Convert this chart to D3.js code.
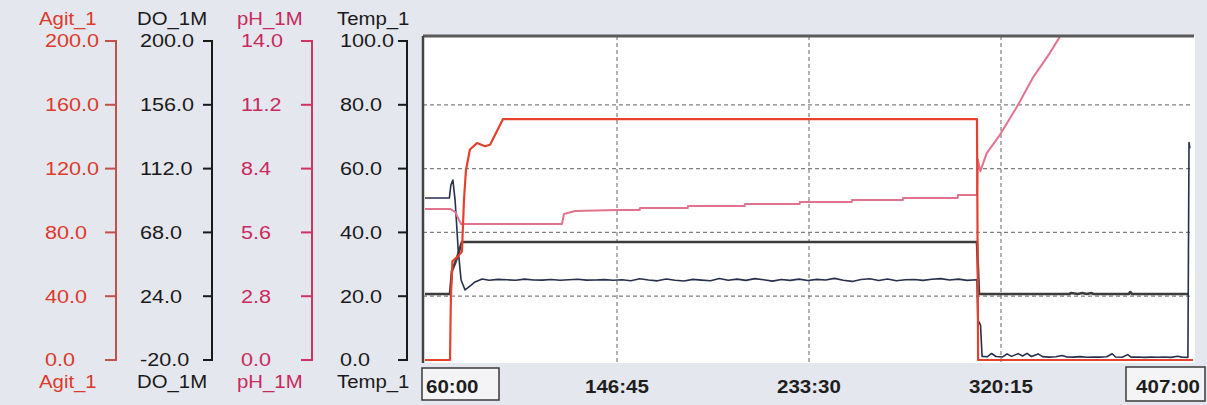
<!DOCTYPE html>
<html><head><meta charset="utf-8">
<script src="https://cdn.jsdelivr.net/npm/d3@7"></script>
<style>
html,body{margin:0;padding:0;background:#e5e7ee;}
svg{display:block;}
text{font-family:"Liberation Sans",Arial,sans-serif;}
</style></head>
<body>
<svg id="chart" width="1207" height="405"></svg>
<script>
// ---- Data ----
const timeTicks = [60, 146.75, 233.5, 320.25, 407];
const timeTickLabels = ["60:00", "146:45", "233:30", "320:15", "407:00"];
const agitTicks = [0, 40, 80, 120, 160, 200];
const doTicks = [-20, 24, 68, 112, 156, 200];
const phTicks = [0, 2.8, 5.6, 8.4, 11.2, 14];
const tempTicks = [0, 20, 40, 60, 80, 100];

const agitTime = [60, 71.3, 71.7, 72.4, 74.9, 76.7, 77.6, 78.5, 80.3, 83.5, 87.1, 89.4, 95.2, 309.4, 309.9, 407];
const agitVal  = [0, 0, 40, 62, 65, 68, 100, 119, 132, 136, 134, 135, 151, 151, 0, 0];

const phTime = [60, 71.3, 73.6, 76.3, 121.9, 122.8, 127.8, 146.7, 157, 157.1, 178.7, 178.8, 204.5, 204.6, 229.3, 229.4, 252.8, 252.9, 275.9, 276, 300.7, 300.8, 309.4, 309.8, 310.9, 313.8, 319.7, 327.4, 334.6, 342.3, 346.8];
const phVal  = [6.63, 6.63, 6.5, 5.97, 5.97, 6.41, 6.54, 6.58, 6.58, 6.67, 6.67, 6.76, 6.76, 6.85, 6.85, 6.93, 6.93, 7.02, 7.02, 7.11, 7.11, 7.24, 7.24, 8.8, 8.28, 9.08, 9.87, 11.1, 12.38, 13.47, 14.18];

const tempTime = [60, 71.3, 72.2, 73.6, 74.9, 76.7, 309.4, 310.3, 351, 352, 355, 357, 359, 361, 362, 378, 378.6, 379.5, 405];
const tempVal  = [20.7, 20.7, 28, 30.4, 33, 37, 37, 20.7, 20.7, 21.0, 20.7, 21.0, 20.7, 21.0, 20.7, 20.7, 21.3, 20.7, 20.7];

const doTime = [60, 71, 71.7, 72.6, 73.6, 75, 76.3, 78.1, 80.3, 82.6, 85.8,
  89, 93, 97, 101, 105, 109, 113, 117, 121, 125, 129, 133, 137, 141, 145, 149, 153, 157, 161, 165, 169, 173, 177, 181, 185, 189, 193, 197, 201, 205, 209, 213, 217, 221, 225, 229, 233, 237, 241, 245, 249, 253, 257, 261, 265, 269, 273, 277, 281, 285, 289, 293, 297, 301, 305, 309.4,
  309.8, 311, 311.7, 314, 316, 318, 321, 323, 325, 328, 330, 332, 334, 337, 339, 342, 345, 348, 350, 353, 356, 359, 362, 365, 368, 370.5, 372, 375, 377.5, 379, 382, 385, 388, 391, 394, 397, 400, 402, 404.7, 405.2, 405.6];
const doVal = [91.7, 91.7, 100.7, 104.1, 90.3, 55.9, 35.2, 28.3, 31, 33.8, 35.9,
  35.0, 35.6, 35.3, 35.0, 35.8, 35.2, 35.1, 35.5, 35.0, 35.3, 35.7, 35.1, 35.2, 35.4, 35.0, 35.3, 34.7, 36.0, 35.2, 34.6, 35.9, 35.0, 34.5, 35.6, 35.1, 34.7, 36.2, 35.0, 35.8, 34.9, 36.1, 35.3, 34.4, 35.5, 34.9, 35.8, 34.8, 35.6, 35.2, 36.3, 35.0, 34.2, 35.5, 36.0, 34.8, 35.9, 34.6, 35.3, 35.5, 34.9, 35.7, 36.1, 35.2, 35.8, 34.9, 35.3,
  7.6, 4.1, -17.5, -17.8, -15.5, -17.6, -17.9, -15.8, -17.5, -15.6, -17.2, -15.4, -17.6, -15.8, -17.7, -18.0, -17.8, -16.9, -17.9, -18.0, -17.7, -18.1, -17.9, -18.0, -17.8, -15.7, -17.9, -18.1, -16.3, -18.0, -17.9, -18.2, -18.0, -18.1, -17.9, -18.2, -17.4, -18.0, -18.2, 130, 126];

// ---- Layout ----
const svg = d3.select("#chart");
const plot = {left: 423, right: 1195, top: 36, bottom: 363};
const yTop = 41, yBot = 360;

const x = d3.scaleLinear().domain([60, 407]).range([425, 1193]);
const yAgit = d3.scaleLinear().domain([0, 200]).range([yBot, yTop]);
const yDO = d3.scaleLinear().domain([-20, 200]).range([yBot, yTop]);
const yPH = d3.scaleLinear().domain([0, 14]).range([yBot, yTop]);
const yTemp = d3.scaleLinear().domain([0, 100]).range([yBot, yTop]);

const fmt1 = d => d3.format(".1f")(d).replace("\u2212", "-");

function stretch(sel, f) {
  sel.each(function () {
    const w = this.getComputedTextLength();
    this.setAttribute("textLength", (w * f).toFixed(1));
    this.setAttribute("lengthAdjust", "spacingAndGlyphs");
  });
}

// plot background
svg.append("rect").attr("x", plot.left).attr("y", plot.top)
  .attr("width", plot.right - plot.left).attr("height", plot.bottom - plot.top)
  .attr("fill", "#ffffff");

// grid
const grid = svg.append("g").attr("stroke", "#808080").attr("stroke-width", 1.2)
  .attr("stroke-dasharray", "4,3");
grid.selectAll("line.h").data(tempTicks.filter(d => d > 0 && d < 100)).join("line")
  .attr("x1", plot.left).attr("x2", 1193)
  .attr("y1", d => yTemp(d)).attr("y2", d => yTemp(d));
grid.selectAll("line.v").data(timeTicks.slice(1, -1)).join("line")
  .attr("class", "v")
  .attr("x1", d => x(d)).attr("x2", d => x(d))
  .attr("y1", plot.top).attr("y2", plot.bottom);

// clip
svg.append("clipPath").attr("id", "clip").append("rect")
  .attr("x", plot.left).attr("y", plot.top)
  .attr("width", 1193 - plot.left).attr("height", plot.bottom - plot.top);

const dataG = svg.append("g").attr("clip-path", "url(#clip)").attr("fill", "none")
  .attr("stroke-linejoin", "round");
function drawSeries(times, vals, yScale, color, width) {
  const pts = times.map((t, i) => [t, vals[i]]);
  dataG.append("path").datum(pts)
    .attr("d", d3.line().x(d => x(d[0])).y(d => yScale(d[1])))
    .attr("stroke", color).attr("stroke-width", width);
}
drawSeries(tempTime, tempVal, yTemp, "#3c3c3c", 2.6);
drawSeries(doTime, doVal, yDO, "#27304a", 1.6);
drawSeries(phTime, phVal, yPH, "#e2738f", 2);
drawSeries(agitTime, agitVal, yAgit, "#e5412e", 2.2);

// borders
svg.append("line").attr("x1", plot.left).attr("x2", 1194).attr("y1", plot.top).attr("y2", plot.top)
  .attr("stroke", "#5a5a5a").attr("stroke-width", 3);
svg.append("line").attr("x1", plot.left).attr("x2", plot.left).attr("y1", plot.top).attr("y2", plot.bottom)
  .attr("stroke", "#444", ).attr("stroke-width", 2.5);

// left axes
const axes = [
  {name: "Agit_1", scale: yAgit, ticks: agitTicks, lineX: 116, tickLen: 11, labelX: 45, titleX: 39, color: "#dc3a2c", lineColor: "#c4504a"},
  {name: "DO_1M", scale: yDO, ticks: doTicks, lineX: 212, tickLen: 9, labelX: 140, titleX: 137, color: "#1a1a1a", lineColor: "#1a1a1a"},
  {name: "pH_1M", scale: yPH, ticks: phTicks, lineX: 312, tickLen: 11, labelX: 241, titleX: 237, color: "#c92a5c", lineColor: "#d03362"},
  {name: "Temp_1", scale: yTemp, ticks: tempTicks, lineX: 407, tickLen: 9, labelX: 340, titleX: 337, color: "#1a1a1a", lineColor: "#1a1a1a"}
];
axes.forEach(a => {
  const g = svg.append("g");
  g.append("line").attr("x1", a.lineX).attr("x2", a.lineX)
    .attr("y1", a.scale(a.ticks[a.ticks.length - 1])).attr("y2", a.scale(a.ticks[0]))
    .attr("stroke", a.lineColor).attr("stroke-width", 2);
  g.selectAll("line.t").data(a.ticks).join("line").attr("class", "t")
    .attr("x1", a.lineX - a.tickLen).attr("x2", a.lineX + 1)
    .attr("y1", d => a.scale(d)).attr("y2", d => a.scale(d))
    .attr("stroke", a.lineColor).attr("stroke-width", 2);
  const labels = g.selectAll("text.l").data(a.ticks).join("text").attr("class", "l")
    .attr("x", a.labelX).attr("y", d => a.scale(d)).attr("dy", "0.36em")
    .attr("font-size", 18).attr("fill", a.color).text(d => fmt1(d));
  stretch(labels, 1.2);
  const t1 = g.append("text").attr("x", a.titleX).attr("y", 25).attr("font-size", 18)
    .attr("fill", a.color).text(a.name);
  const t2 = g.append("text").attr("x", a.titleX).attr("y", 388).attr("font-size", 18)
    .attr("fill", a.color).text(a.name);
  stretch(t1, 1.13); stretch(t2, 1.13);
});

// bottom time axis
svg.append("rect").attr("x", 422).attr("y", 368).attr("width", 77).attr("height", 32)
  .attr("fill", "#f4f4f6").attr("stroke", "#3a3a3a").attr("stroke-width", 1.5);
svg.append("rect").attr("x", 1126).attr("y", 367).attr("width", 79).attr("height", 34)
  .attr("fill", "#f4f4f6").attr("stroke", "#3a3a3a").attr("stroke-width", 1.5);
const tl = svg.append("g").selectAll("text").data(timeTicks).join("text")
  .attr("x", (d, i) => i === 0 ? x(d) + 1 : (i === timeTicks.length - 1 ? x(d) + 7 : x(d)))
  .attr("y", 393)
  .attr("text-anchor", (d, i) => i === 0 ? "start" : (i === timeTicks.length - 1 ? "end" : "middle"))
  .attr("font-size", 18).attr("font-weight", "bold").attr("fill", "#1e1e1e")
  .text((d, i) => timeTickLabels[i]);
stretch(tl, 1.14);
</script>
</body></html>
